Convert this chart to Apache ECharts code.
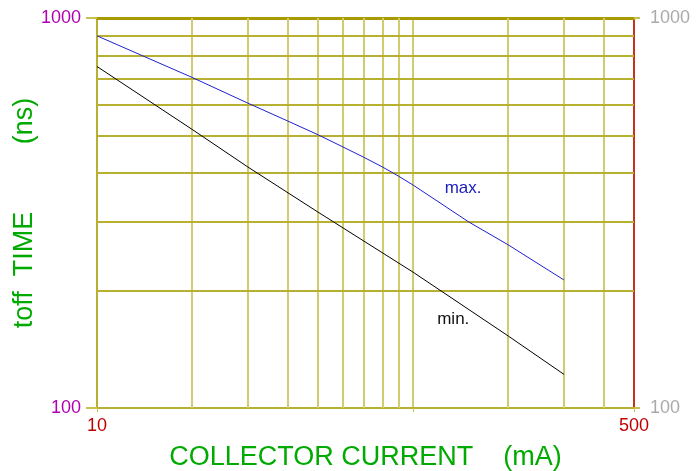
<!DOCTYPE html>
<html>
<head>
<meta charset="utf-8">
<script src="https://cdn.jsdelivr.net/npm/echarts@6/dist/echarts.min.js"></script>
<style>
  html, body { margin: 0; padding: 0; background: #fff; }
  #chart { width: 696px; height: 471px; }
</style>
</head>
<body>
<div id="chart"></div>
<script>
// collector current (mA), toff time (ns)
const currentMax = [10, 20, 30, 40, 50, 60, 70, 80, 90, 100, 150, 200, 300];
const toffMax = [900, 704, 605, 545, 502, 467, 439, 415, 393, 373, 300, 262, 213];
const currentMin = [10, 20, 30, 50, 100, 200, 300];
const toffMin = [751, 518, 415, 318, 223, 153, 122];

const gridX = [20, 30, 40, 50, 60, 70, 80, 90, 200, 300, 400];
const gridY = [200, 300, 400, 500, 600, 700, 800, 900];
const xTickLabels = [10, 500];

const labelMax = [144, 366];
const labelMin = [134, 169];

const font = 'Liberation Sans, Arial, sans-serif';
let myChart = echarts.init(document.getElementById('chart'));

function pairs(xs, ys) {
  return xs.map((x, i) => [x, ys[i]]);
}

myChart.setOption({
  backgroundColor: '#fff',
  animation: false,
  grid: { left: 97, right: 62, top: 18, bottom: 63, containLabel: false, outerBoundsMode: 'none' },
  xAxis: [{
    type: 'log', logBase: 10, min: 10, max: 500,
    name: 'COLLECTOR CURRENT    (mA)',
    nameLocation: 'middle', nameGap: 36, nameMoveOverlap: false,
    nameTextStyle: { color: '#00aa00', fontSize: 27, fontFamily: font },
    axisLine: { lineStyle: { color: '#b8b030', width: 2 } },
    axisTick: { show: true, length: 4, lineStyle: { color: '#c8c050' } },
    splitLine: { show: true, lineStyle: { color: '#d2cc70', width: 2 } },
    axisLabel: {
      color: '#c00000', fontSize: 18, fontFamily: font, margin: 9,
      formatter: v => xTickLabels.indexOf(Math.round(v)) >= 0 ? String(Math.round(v)) : ''
    }
  }, {
    type: 'log', logBase: 10, min: 10, max: 500, position: 'top',
    axisLine: { lineStyle: { color: '#a89a00', width: 3 } },
    axisTick: { show: false }, axisLabel: { show: false }, splitLine: { show: false }
  }],
  yAxis: [{
    type: 'log', logBase: 10, min: 100, max: 1000,
    name: 'toff  TIME         (ns)',
    nameLocation: 'middle', nameGap: 59, nameMoveOverlap: false,
    nameTextStyle: { color: '#00aa00', fontSize: 27, fontFamily: font },
    axisLine: { show: true, lineStyle: { color: '#b8b030', width: 2 } },
    axisTick: { show: true, length: 11, lineStyle: { color: '#c8c050', width: 2 } },
    splitLine: { show: false },
    axisLabel: { color: '#b000b0', fontSize: 18, fontFamily: font, margin: 16, formatter: v => String(Math.round(v)) }
  }, {
    type: 'log', logBase: 10, min: 100, max: 1000, position: 'right',
    axisLine: { show: true, lineStyle: { color: '#c00000', width: 1.5 } },
    axisTick: { show: true, length: 6, lineStyle: { color: '#c8c050', width: 2 } },
    splitLine: { show: false },
    axisLabel: { color: '#aaaaaa', fontSize: 18, fontFamily: font, margin: 16, formatter: v => String(Math.round(v)) }
  }],
  series: [{
    type: 'line',
    data: pairs(currentMax, toffMax),
    showSymbol: false,
    lineStyle: { color: '#2020d0', width: 1 },
    z: 5,
    markLine: {
      silent: true, symbol: 'none', label: { show: false },
      lineStyle: { color: '#d2cc70', width: 2, type: 'solid' },
      data: gridX.map(v => ({ xAxis: v }))
    },
    markPoint: {
      symbolSize: 0,
      label: { show: true, formatter: 'max.', color: '#2020c0', fontSize: 17, fontFamily: font },
      data: [{ coord: labelMax }]
    }
  }, {
    type: 'line',
    data: pairs(currentMin, toffMin),
    showSymbol: false,
    lineStyle: { color: '#000', width: 1 },
    z: 5,
    markLine: {
      silent: true, symbol: 'none', label: { show: false },
      lineStyle: { color: '#b8b030', width: 2, type: 'solid' },
      data: gridY.map(v => ({ yAxis: v }))
    },
    markPoint: {
      symbolSize: 0,
      label: { show: true, formatter: 'min.', color: '#111', fontSize: 17, fontFamily: font },
      data: [{ coord: labelMin }]
    }
  }]
});
</script>
</body>
</html>
